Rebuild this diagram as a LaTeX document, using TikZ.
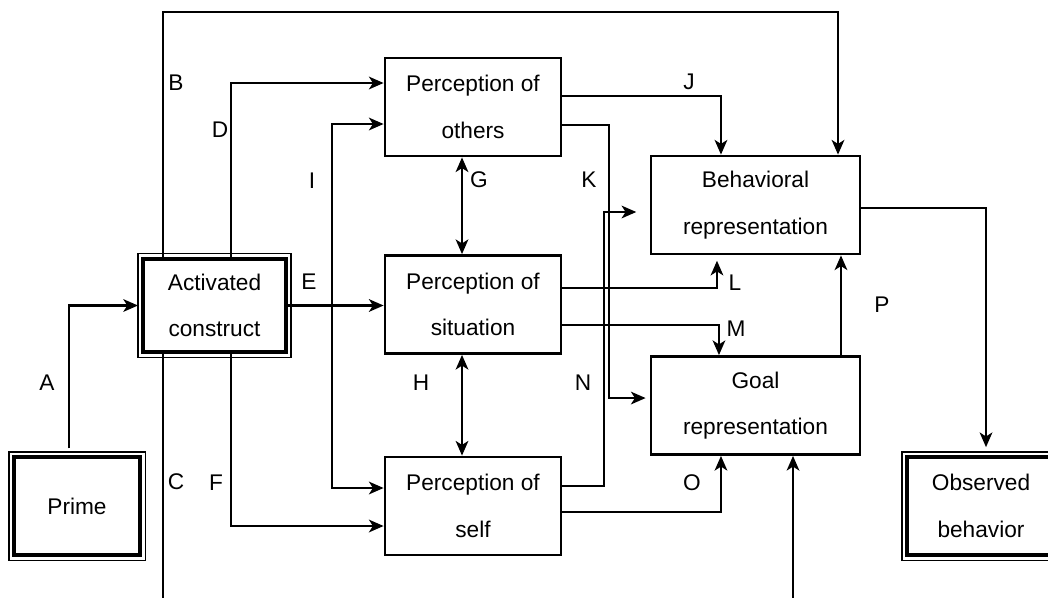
\documentclass[tikz,border=0pt]{standalone}
\usepackage{fontspec}
\setmainfont{Liberation Sans}
\usetikzlibrary{arrows.meta}

\begin{document}
\begin{tikzpicture}[x=0.75pt, y=-0.75pt,
    box/.style={draw, line width=2.1pt, minimum width=132pt, minimum height=73.5pt,
        align=center, inner sep=0pt, font=\fontsize{17pt}{35pt}\selectfont},
    bigbox/.style={draw, line width=2.8pt, align=center, inner sep=0pt,
        font=\fontsize{17pt}{35pt}\selectfont},
    conn/.style={line width=1.6pt, -{Stealth[length=11pt, width=9.5pt, inset=3pt]}},
    both/.style={line width=1.6pt, {Stealth[length=11pt, width=9.5pt, inset=3pt]}-{Stealth[length=11pt, width=9.5pt, inset=3pt]}},
    lbl/.style={font=\fontsize{17pt}{20pt}\selectfont, inner sep=0pt}]

    % page frame
    \useasboundingbox (0,0) rectangle (1048,597);

    % --- boxes ---
    \node[box] (others) at (473,107) {Perception of\\others};
    \node[box] (sit) at (473,304.5) {Perception of\\situation};
    \node[box] (self) at (473,506) {Perception of\\self};
    \node[box, minimum width=156.75pt] (beh) at (755.5,205) {Behavioral\\representation};
    \node[box, minimum width=156.75pt] (goal) at (755.5,405.5) {Goal\\representation};

    \node[bigbox, minimum width=107pt, minimum height=70pt] (act) at (214.5,305.5) {Activated\\construct};
    \node[bigbox, minimum width=94.5pt, minimum height=73.5pt] (prime) at (77,506) {Prime};
    \node[bigbox, minimum width=111pt, minimum height=73.5pt] (obs) at (981,506) {Observed\\behavior};

    % thin outer line of the double boxes
    \foreach \n in {act,prime,obs}
        \draw[line width=1pt] ([shift={(-3.3,-3.3)}]\n.north west) rectangle ([shift={(3.3,3.3)}]\n.south east);

    % --- connectors ---
    % A
    \draw[conn, shorten <=5pt, shorten >=2.5pt] ([xshift=-6pt]prime.north) |- (act.west);
    % B
    \coordinate (Btop) at (838,12);
    \draw[conn] ([xshift=-38.6pt]act.north) |- (Btop) -- (Btop |- beh.north);
    % C
    \coordinate (Cbot) at (793,640);
    \draw[conn] ([xshift=-38.6pt]act.south) |- (Cbot) -- (Cbot |- goal.south);
    % D
    \draw[conn] ([xshift=12.4pt]act.north) |- ([yshift=18pt]others.west);
    % E and I
    \draw[conn] (act.east) -- (act.east -| sit.west);
    \coordinate (Ijoin) at (332,305.5);
    \draw[conn] (Ijoin) |- ([yshift=-12.75pt]others.west);
    \draw[conn] (Ijoin) |- ([yshift=13.5pt]self.west);
    % F
    \draw[conn] ([xshift=12.4pt]act.south) |- ([yshift=-15pt]self.west);
    % G, H
    \draw[both] ([xshift=-8.25pt]others.south) -- ([xshift=-8.25pt]sit.north);
    \draw[both] ([xshift=-8.25pt]sit.south) -- ([xshift=-8.25pt]self.north);
    % J
    \draw[conn] ([yshift=8.25pt]others.east) -| ([xshift=-25.9pt]beh.north);
    % K
    \coordinate (Kx) at (609,250);
    \draw[conn, shorten >=3pt] ([yshift=-13.5pt]others.east) -| (Kx) |- ([yshift=5.6pt]goal.west);
    % N
    \coordinate (Nx) at (604,350);
    \draw[conn, shorten >=10pt] ([yshift=15pt]self.east) -| (Nx) |- ([yshift=-5.25pt]beh.west);
    % L, M
    \draw[conn, shorten >=4pt] ([yshift=12.4pt]sit.east) -| ([xshift=-28.9pt]beh.south);
    \draw[conn] ([yshift=-15.4pt]sit.east) -| ([xshift=-27.4pt]goal.north);
    % O, P
    \draw[conn] ([yshift=-4.5pt]self.east) -| ([xshift=-25.9pt]goal.south);
    \draw[conn] ([xshift=64.1pt]goal.north) -- ([xshift=64.1pt]beh.south);
    % to observed behavior
    \draw[conn, shorten >=6pt] ([yshift=-2.25pt]beh.east) -| ([xshift=3.75pt]obs.north);

    % --- path letters ---
    \foreach \t/\x/\y in {A/47/383, B/176/83, C/176/482, D/220/130, E/309/282,
            F/216/483, G/479/180, H/421/383, I/312/181, J/689/82, K/589/180,
            L/735/283, M/736/329, N/583/383, O/692/483, P/882/305}
        \node[lbl] (l\t) at (\x,\y) {\t};

\end{tikzpicture}
\end{document}
